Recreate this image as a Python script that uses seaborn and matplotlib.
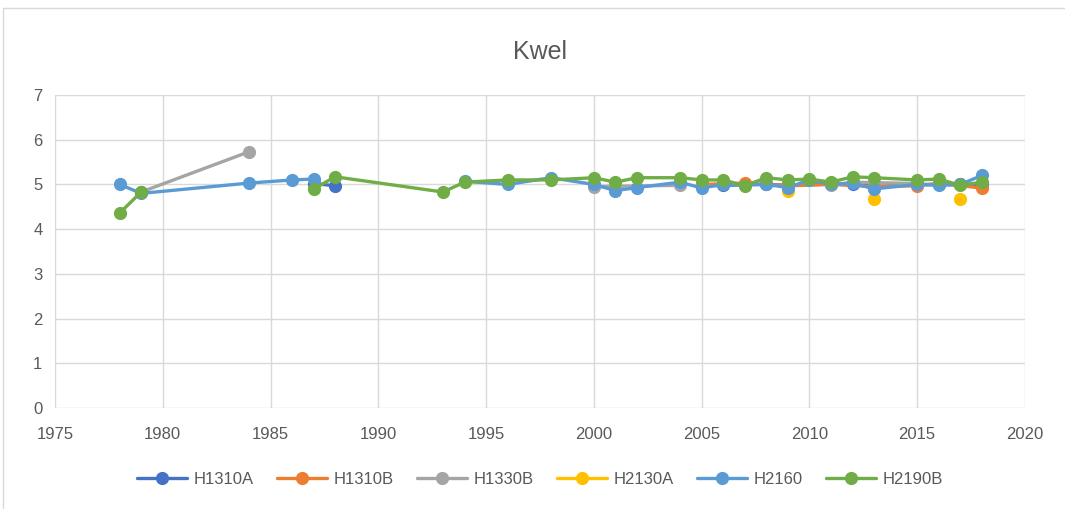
import matplotlib.pyplot as plt
import numpy as np
import pandas as pd
import seaborn as sns
from matplotlib.patches import Rectangle

# jaren en waarden per peilbuis, np.nan = onderbreking in de lijn
h1310a_years = [1987, 1988, 1990, 2005, 2006, 2008, 2009, 2012, 2013, 2015, 2016, 2017, 2018]
h1310a_vals = [5.02, 4.97, np.nan, 4.97, 4.98, 5.0, 4.98, 5.02, 4.95, 5.0, 5.0, 5.0, 5.0]

h1310b_years = [2005, 2007, 2009, 2011, 2013, 2015, 2016, 2018]
h1310b_vals = [5.0, 5.03, 4.97, 5.0, 4.95, 4.97, 5.02, 4.92]

h1330b_years = [1979, 1984, 1990, 2000, 2004, 2008, 2011, 2012, 2015]
h1330b_vals = [4.83, 5.73, np.nan, 4.95, 4.98, np.nan, 4.98, 5.05, 5.02]

h2130a_years = [2009, 2010, 2013, 2014, 2017]
h2130a_vals = [4.85, np.nan, 4.68, np.nan, 4.68]

h2160_years = [1978, 1979, 1984, 1986, 1987, 1990, 1994, 1996, 1998, 2000, 2001, 2002, 2004, 2005,
               2006, 2008, 2009, 2010, 2011, 2012, 2013, 2015, 2016, 2017, 2018]
h2160_vals = [5.0, 4.8, 5.03, 5.1, 5.12, np.nan, 5.07, 5.0, 5.15, 5.0, 4.86, 4.93, 5.05, 4.92,
              5.0, 5.0, 4.93, 5.1, 5.0, 5.03, 4.9, 5.0, 4.98, 5.0, 5.2]

h2190b_years = [1978, 1979, 1983, 1987, 1988, 1993, 1994, 1996, 1998, 2000, 2001, 2002, 2004, 2005,
                2006, 2007, 2008, 2009, 2010, 2011, 2012, 2013, 2015, 2016, 2017, 2018]
h2190b_vals = [4.36, 4.83, np.nan, 4.9, 5.17, 4.83, 5.05, 5.1, 5.1, 5.15, 5.05, 5.15, 5.15, 5.1,
               5.1, 4.97, 5.15, 5.1, 5.12, 5.05, 5.17, 5.15, 5.1, 5.12, 4.98, 5.05]

series = {
    "H1310A": (h1310a_years, h1310a_vals),
    "H1310B": (h1310b_years, h1310b_vals),
    "H1330B": (h1330b_years, h1330b_vals),
    "H2130A": (h2130a_years, h2130a_vals),
    "H2160": (h2160_years, h2160_vals),
    "H2190B": (h2190b_years, h2190b_vals),
}
colors = ["#4472C4", "#ED7D31", "#A5A5A5", "#FFC000", "#5B9BD5", "#70AD47"]

frames = []
for name, (yrs, vals) in series.items():
    d = pd.DataFrame({"jaar": yrs, "kwel": vals})
    d["seg"] = name + d["kwel"].isna().cumsum().astype(str)
    d["reeks"] = name
    frames.append(d.dropna())
df = pd.concat(frames, ignore_index=True)

sns.set_style("white")
plt.rcParams["font.family"] = ["Liberation Sans", "DejaVu Sans"]

fig = plt.figure(figsize=(10.65, 5.09), dpi=100)
ax = fig.add_axes([0.0516, 0.1984, 0.9108, 0.615])

sns.lineplot(data=df, x="jaar", y="kwel", hue="reeks", units="seg", estimator=None,
             hue_order=list(series.keys()), palette=colors, marker="o", markersize=9.5,
             markeredgewidth=0, linewidth=2.4, sort=False, ax=ax)

ax.set_xlim(1975, 2020)
ax.set_ylim(0, 7)
ax.set_xticks(range(1975, 2021, 5))
ax.set_yticks(range(0, 8))
ax.grid(True, color="#D9D9D9", linewidth=1)
ax.set_axisbelow(True)
for s in ax.spines.values():
    s.set_visible(False)
ax.tick_params(length=0, labelsize=12, labelcolor="#595959")
ax.tick_params(axis="x", pad=14)
ax.tick_params(axis="y", pad=9)
ax.set_xlabel("")
ax.set_ylabel("")
ax.set_title("Kwel", fontsize=18, color="#595959", pad=26)

sns.move_legend(ax, "upper center", bbox_to_anchor=(0.5, -0.155), ncol=6, frameon=False,
                title=None, fontsize=12, handlelength=3, columnspacing=1.4, handletextpad=0.4)
for t in ax.get_legend().get_texts():
    t.set_color("#595959")

fig.patches.append(Rectangle((0.003, -0.01), 1.1, 0.995, transform=fig.transFigure,
                             fill=False, edgecolor="#D9D9D9", linewidth=1))

fig.savefig("out.png", dpi=100)
